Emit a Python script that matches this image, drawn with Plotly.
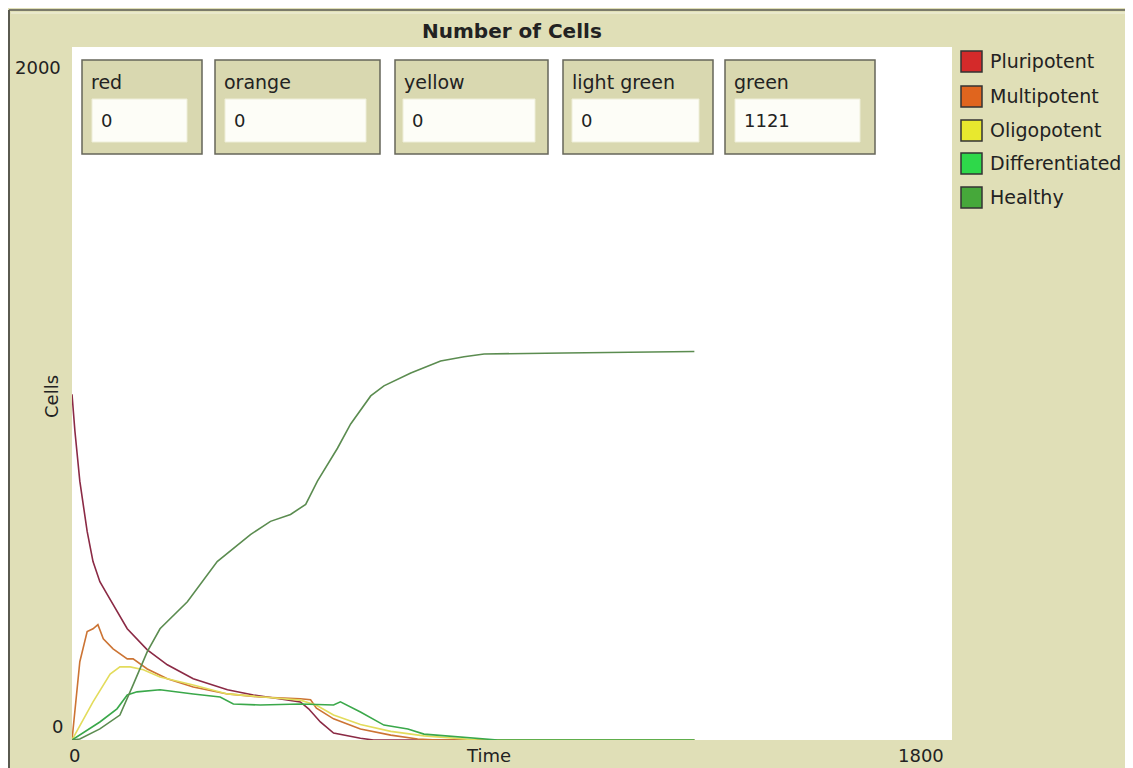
import plotly.graph_objects as go

# ── Data ──────────────────────────────────────────────────────────────────────
pluri_t = [0, 6, 16, 31, 43, 57, 72, 113, 154, 195, 248, 318, 371, 420, 467, 484,
           508, 535, 564, 590, 617, 1273]
pluri_v = [998, 891, 747, 602, 515, 457, 420, 321, 260, 217, 177, 145, 130, 120,
           110, 90, 52, 20, 12, 5, 0, 0]

multi_t = [0, 10, 16, 31, 43, 53, 64, 84, 113, 125, 154, 195, 248, 318, 385, 467,
           488, 500, 535, 590, 652, 707, 748, 1273]
multi_v = [0, 130, 226, 313, 321, 333, 292, 263, 234, 234, 205, 177, 153, 133, 124,
           119, 116, 92, 61, 32, 14, 3, 0, 0]

oligo_t = [0, 20, 43, 78, 98, 119, 146, 180, 248, 318, 385, 467, 500, 535, 590, 652,
           720, 790, 830, 1273]
oligo_v = [0, 50, 110, 190, 211, 211, 203, 182, 159, 133, 124, 115, 100, 72, 45, 25,
           12, 4, 0, 0]

diff_t = [0, 16, 57, 92, 113, 133, 180, 248, 303, 330, 385, 467, 535, 549, 590, 638,
          687, 720, 789, 843, 871, 1273]
diff_v = [0, 14, 52, 90, 130, 139, 145, 133, 124, 104, 101, 104, 101, 110, 81, 43,
          32, 17, 9, 3, 0, 0]

healthy_t = [0, 16, 57, 98, 125, 154, 180, 236, 297, 365, 406, 447, 478, 502, 543,
             570, 611, 638, 693, 754, 802, 843, 1007, 1273]
healthy_v = [0, 3, 32, 72, 159, 255, 321, 399, 515, 593, 631, 651, 680, 747, 842,
             912, 993, 1022, 1059, 1094, 1106, 1114, 1117, 1121]

series_names = ["Pluripotent", "Multipotent", "Oligopotent", "Differentiated", "Healthy"]
monitor_names = ["red", "orange", "yellow", "light green", "green"]
monitor_values = [0, 0, 0, 0, 1121]

x_max, y_max = 1800, 2000

# ── Styling ───────────────────────────────────────────────────────────────────
BG = "#e0dfb7"
FONT = "DejaVu Sans"
line_colors = ["#8b2a45", "#cc7434", "#e3dc5c", "#3aa84a", "#5b8c50"]
swatch_colors = ["#d42a2a", "#e0651e", "#e8e82e", "#2ed84a", "#46a83a"]

# page is 1133x768 but the html body has an 8px margin
OFF = 8
PAGE_W, PAGE_H = 1133, 768
W, H = PAGE_W - OFF, PAGE_H - OFF
L, R, T, B = 72, 952, 47, 740   # plot area, page pixels


def _px(x):
    return (x - L) / (R - L)


def _py(y):
    return (B - y) / (B - T)


def _text(txt, x, y, size, xanchor="center", **kw):
    return dict(text=txt, xref="paper", yref="paper", x=_px(x), y=_py(y),
                xanchor=xanchor, yanchor="middle", showarrow=False,
                font=dict(family=FONT, size=size, color="#222"), **kw)


fig = go.Figure()

series = [(pluri_t, pluri_v), (multi_t, multi_v), (oligo_t, oligo_v),
          (diff_t, diff_v), (healthy_t, healthy_v)]
for (t, v), name, col in zip(series, series_names, line_colors):
    fig.add_trace(go.Scatter(x=t, y=v, mode="lines", name=name,
                             line=dict(color=col, width=1.6), showlegend=False))

shapes = []
annotations = []

# ── Outer frame ───────────────────────────────────────────────────────────────
shapes.append(dict(type="line", xref="paper", yref="paper",
                   x0=_px(9), x1=_px(9), y0=_py(10), y1=_py(PAGE_H + 5),
                   line=dict(color="#5a5a50", width=2)))
shapes.append(dict(type="line", xref="paper", yref="paper",
                   x0=_px(9), x1=_px(PAGE_W + 5), y0=_py(10), y1=_py(10),
                   line=dict(color="#5a5a50", width=1.5)))
shapes.append(dict(type="line", xref="paper", yref="paper",
                   x0=_px(11), x1=_px(PAGE_W + 5), y0=_py(13), y1=_py(13),
                   line=dict(color="#f2f2e0", width=1)))
shapes.append(dict(type="line", xref="paper", yref="paper",
                   x0=_px(1126), x1=_px(1126), y0=_py(12), y1=_py(PAGE_H + 5),
                   line=dict(color="#d0cfa8", width=1)))

annotations.append(_text("<b>Number of Cells</b>", 512, 31, 20))

# ── Monitors ──────────────────────────────────────────────────────────────────
box_x = [(82, 202), (215, 380), (395, 548), (563, 713), (725, 875)]
field_x = [(92, 187), (225, 366), (403, 535), (572, 699), (735, 860)]
for (bx0, bx1), (fx0, fx1), lab, val in zip(box_x, field_x, monitor_names, monitor_values):
    shapes.append(dict(type="rect", xref="paper", yref="paper",
                       x0=_px(bx0), x1=_px(bx1), y0=_py(154), y1=_py(60),
                       fillcolor="#d9d8b0", line=dict(color="#66665a", width=1.5)))
    shapes.append(dict(type="rect", xref="paper", yref="paper",
                       x0=_px(fx0), x1=_px(fx1), y0=_py(142), y1=_py(99),
                       fillcolor="#fdfdf7", line=dict(color="#eeeed8", width=1)))
    annotations.append(_text(lab, bx0 + 7, 82, 19, xanchor="left"))
    annotations.append(_text(str(val), fx0 + 7, 121, 18, xanchor="left"))

# ── Legend ────────────────────────────────────────────────────────────────────
legend_y = [61, 96, 130, 163, 197]
for name, col, ly in zip(series_names, swatch_colors, legend_y):
    shapes.append(dict(type="rect", xref="paper", yref="paper",
                       x0=_px(961), x1=_px(982), y0=_py(ly + 11), y1=_py(ly - 10),
                       fillcolor=col, line=dict(color="#333", width=1.5)))
    annotations.append(_text(name, 988, ly, 19, xanchor="left"))

# ── Axis labels ───────────────────────────────────────────────────────────────
annotations += [
    _text("2000", 63, 68, 18, xanchor="right"),
    _text("0", 65, 726, 18, xanchor="right"),
    _text("0", 74, 755, 18),
    _text("Time", 488, 755, 18),
    _text("1800", 946, 755, 18, xanchor="right"),
    _text("Cells", 52, 397, 18, textangle=-90),
]

fig.update_layout(
    width=W, height=H,
    margin=dict(l=L - OFF, r=PAGE_W - R, t=T - OFF, b=PAGE_H - B),
    paper_bgcolor=BG, plot_bgcolor="white",
    xaxis=dict(range=[0, x_max], showgrid=False, zeroline=False,
               showticklabels=False, ticks=""),
    yaxis=dict(range=[0, y_max], showgrid=False, zeroline=False,
               showticklabels=False, ticks=""),
    shapes=shapes, annotations=annotations,
)

fig.write_html("out.html")
